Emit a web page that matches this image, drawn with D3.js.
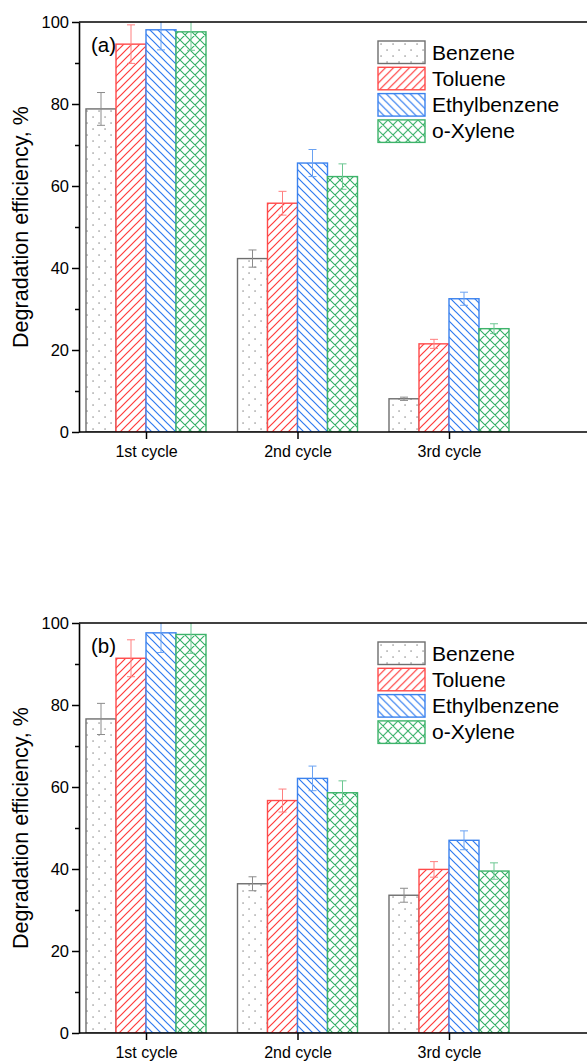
<!DOCTYPE html>
<html><head><meta charset="utf-8">
<script src="https://cdn.jsdelivr.net/npm/d3@7"></script>
<style>body{margin:0;background:#fff}svg{display:block}text{font-family:Arial,"Liberation Sans",sans-serif}</style>
</head><body><svg id="c" width="587" height="1061"></svg>
<script>
const categories = ["1st cycle", "2nd cycle", "3rd cycle"];
const seriesNames = ["Benzene", "Toluene", "Ethylbenzene", "o-Xylene"];
const yTicks = [0, 20, 40, 60, 80, 100];
const yMinorTicks = [10, 30, 50, 70, 90];

// panel (a)
const aBenzene = [78.8, 42.3, 8.1];
const aToluene = [94.6, 55.8, 21.5];
const aEthylbenzene = [98.1, 65.6, 32.5];
const aXylene = [97.6, 62.3, 25.2];
const aBenzeneErr = [4.0, 2.1, 0.4];
const aTolueneErr = [4.7, 2.9, 1.1];
const aEthylbenzeneErr = [4.9, 3.3, 1.6];
const aXyleneErr = [4.5, 3.1, 1.2];

// panel (b)
const bBenzene = [76.6, 36.4, 33.6];
const bToluene = [91.4, 56.7, 39.9];
const bEthylbenzene = [97.6, 62.1, 47.0];
const bXylene = [97.2, 58.6, 39.5];
const bBenzeneErr = [3.8, 1.7, 1.7];
const bTolueneErr = [4.5, 2.8, 1.9];
const bEthylbenzeneErr = [4.8, 3.0, 2.3];
const bXyleneErr = [4.6, 2.9, 2.0];

const colors = ["#6e6e6e", "#ff4a4a", "#3b82ee", "#3db36a"];
const hatchColors = ["#555555", "#ff3b3b", "#2f7bf0", "#33b065"];
const errColors = ["#8c8c8c", "#ff7f7f", "#6aa2f2", "#6cc792"];

const svg = d3.select("#c");
const defs = svg.append("defs");

function makePatterns() {
  let p = defs.append("pattern").attr("id", "pat0").attr("patternUnits", "userSpaceOnUse")
    .attr("width", 12).attr("height", 12);
  p.append("rect").attr("width", 12).attr("height", 12).attr("fill", "#fff");
  p.append("rect").attr("x", 2.5).attr("y", 2.5).attr("width", 1.1).attr("height", 1.1).attr("fill", hatchColors[0]);
  p.append("rect").attr("x", 8.5).attr("y", 8.5).attr("width", 1.1).attr("height", 1.1).attr("fill", hatchColors[0]);
  p = defs.append("pattern").attr("id", "pat1").attr("patternUnits", "userSpaceOnUse")
    .attr("width", 8).attr("height", 8);
  p.append("rect").attr("width", 8).attr("height", 8).attr("fill", "#fff");
  p.append("path").attr("d", "M-2,2 L2,-2 M0,8 L8,0 M6,10 L10,6")
    .attr("stroke", hatchColors[1]).attr("stroke-width", 1.2);
  p = defs.append("pattern").attr("id", "pat2").attr("patternUnits", "userSpaceOnUse")
    .attr("width", 8).attr("height", 8);
  p.append("rect").attr("width", 8).attr("height", 8).attr("fill", "#fff");
  p.append("path").attr("d", "M-2,6 L2,10 M0,0 L8,8 M6,-2 L10,2")
    .attr("stroke", hatchColors[2]).attr("stroke-width", 1.2);
  p = defs.append("pattern").attr("id", "pat3").attr("patternUnits", "userSpaceOnUse")
    .attr("width", 10).attr("height", 10);
  p.append("rect").attr("width", 10).attr("height", 10).attr("fill", "#fff");
  p.append("path").attr("d", "M0,0 L10,10 M-2,8 L2,12 M8,-2 L12,2 M0,10 L10,0 M-2,2 L2,-2 M8,12 L12,8")
    .attr("stroke", hatchColors[3]).attr("stroke-width", 1.1);
}
makePatterns();

function drawPanel(opts) {
  const {top, bottom, left, right, label, vals, errs, id} = opts;
  const g = svg.append("g");
  const y = d3.scaleLinear().domain([0, 100]).range([bottom, top]);
  const x = d3.scalePoint().domain(categories).range([146, 449]);
  const xs = d3.scaleBand().domain(seriesNames).range([-60, 60]).padding(0);

  defs.append("clipPath").attr("id", "clip" + id).append("rect")
    .attr("x", left).attr("y", top).attr("width", right - left).attr("height", bottom - top);

  const plot = g.append("g").attr("clip-path", `url(#clip${id})`);

  seriesNames.forEach((s, si) => {
    const data = categories.map((c, ci) => ({c, v: vals[si][ci], e: errs[si][ci]}));
    plot.selectAll(null).data(data).enter().append("rect")
      .attr("x", d => x(d.c) + xs(s))
      .attr("y", d => y(d.v))
      .attr("width", xs.bandwidth())
      .attr("height", d => y(0) - y(d.v))
      .attr("fill", `url(#pat${si})`)
      .attr("stroke", colors[si]).attr("stroke-width", 1.4);
  });
  seriesNames.forEach((s, si) => {
    const data = categories.map((c, ci) => ({c, v: vals[si][ci], e: errs[si][ci]}));
    const eg = plot.selectAll(null).data(data).enter().append("g")
      .attr("stroke", errColors[si]).attr("stroke-width", 1).attr("fill", "none");
    const cx = d => x(d.c) + xs(s) + xs.bandwidth() / 2;
    eg.append("line").attr("x1", cx).attr("x2", cx)
      .attr("y1", d => y(d.v + d.e)).attr("y2", d => y(d.v - d.e));
    eg.append("line").attr("x1", d => cx(d) - 4).attr("x2", d => cx(d) + 4)
      .attr("y1", d => y(d.v + d.e)).attr("y2", d => y(d.v + d.e));
    eg.append("line").attr("x1", d => cx(d) - 4).attr("x2", d => cx(d) + 4)
      .attr("y1", d => y(d.v - d.e)).attr("y2", d => y(d.v - d.e));
  });

  const ya = g.append("g").attr("transform", `translate(${left},0)`)
    .call(d3.axisLeft(y).tickValues(yTicks).tickSize(7).tickSizeOuter(0).tickPadding(3));
  ya.selectAll("text").attr("font-size", 16.5).attr("fill", "#000")
    .attr("font-family", "Arial, 'Liberation Sans', sans-serif");
  ya.selectAll("line").attr("stroke", "#000").attr("stroke-width", 1.5);
  ya.select(".domain").attr("stroke", "#000").attr("stroke-width", 1.6);
  const ym = g.append("g").attr("transform", `translate(${left},0)`)
    .call(d3.axisLeft(y).tickValues(yMinorTicks).tickSize(4).tickFormat(""));
  ym.select(".domain").remove();
  ym.selectAll("line").attr("stroke", "#000").attr("stroke-width", 1.5);

  const xa = g.append("g").attr("transform", `translate(0,${bottom})`)
    .call(d3.axisBottom(x).tickSize(7).tickSizeOuter(0).tickPadding(7));
  xa.select(".domain").attr("d", `M${left},0H${right}`).attr("stroke", "#000").attr("stroke-width", 1.6);
  xa.selectAll("line").attr("stroke", "#000").attr("stroke-width", 1.5);
  xa.selectAll("text").attr("font-size", 16).attr("fill", "#000")
    .attr("font-family", "Arial, 'Liberation Sans', sans-serif");

  g.append("line").attr("x1", left).attr("x2", right).attr("y1", top).attr("y2", top)
    .attr("stroke", "#000").attr("stroke-width", 1.6);

  g.append("text")
    .attr("transform", `translate(28,${(top + bottom) / 2}) rotate(-90)`)
    .attr("text-anchor", "middle").attr("font-size", 21.5).text("Degradation efficiency, %");

  g.append("text").attr("x", 91).attr("y", top + 30).attr("font-size", 20.5).text(label);

  const lg = g.append("g").attr("transform", `translate(378,${top + 19})`);
  seriesNames.forEach((s, si) => {
    const row = lg.append("g").attr("transform", `translate(0,${si * 26.3})`);
    row.append("rect").attr("x", 0).attr("y", 0).attr("width", 47).attr("height", 22.5)
      .attr("fill", `url(#pat${si})`).attr("stroke", colors[si]).attr("stroke-width", 1.4);
    row.append("text").attr("x", 54).attr("y", 18.5).attr("font-size", 21).text(s);
  });
}

drawPanel({
  id: "a", top: 22, bottom: 432, left: 79, right: 590, label: "(a)",
  vals: [aBenzene, aToluene, aEthylbenzene, aXylene],
  errs: [aBenzeneErr, aTolueneErr, aEthylbenzeneErr, aXyleneErr]
});
drawPanel({
  id: "b", top: 623, bottom: 1033, left: 79, right: 590, label: "(b)",
  vals: [bBenzene, bToluene, bEthylbenzene, bXylene],
  errs: [bBenzeneErr, bTolueneErr, bEthylbenzeneErr, bXyleneErr]
});
</script></body></html>
